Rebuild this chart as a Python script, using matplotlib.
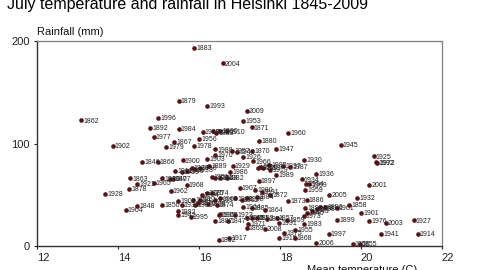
import matplotlib
matplotlib.use("Agg")
import matplotlib.pyplot as plt
import matplotlib.transforms as mtransforms

# values (July mean temperature C, rainfall mm)
years = ["1883", "2004", "1879", "1993", "1862", "1996", "1892", "1984", "2009", "1953",
         "1871", "1960", "1977", "1867", "1956", "1979", "1978", "1902", "1988", "1880",
         "1947", "1945", "1925", "1972", "1992", "1930", "1936", "2001", "1910", "1922",
         "1888", "1990", "1918", "1944", "1870", "1926", "1966", "1903", "1937", "1987",
         "1985", "1929", "1916", "1989", "1934", "1994", "1969", "1959", "1897", "2005",
         "1932", "1873", "1858", "1961", "1901", "1899", "1976", "2003", "1927", "1983",
         "1864", "1941", "1914", "1997", "1955", "2006", "1868", "1915", "1855", "1856",
         "2008", "1971", "1991", "1975", "1917", "1852", "1887", "1846", "1866", "1900",
         "1863", "1921", "1965", "1878", "1928", "1877", "1920", "1940", "1968", "1962",
         "1848", "1904", "1850", "1909", "1931", "1882", "1942", "1995", "1935", "1911",
         "1939", "1949", "1924", "1933", "1950", "1889", "1970", "1957", "1981", "1948",
         "1982", "1951", "1986", "1919", "1913", "1952", "1907", "1980", "1891", "1884",
         "1872", "1974", "1893", "1963", "1954", "1875", "1861", "1876", "1898", "1874",
         "1894", "1906", "1908", "1912", "1958", "1964", "1885", "1923", "1967", "1847",
         "1849", "1851", "1853", "1854", "1857", "1859", "1869", "1896", "1938", "1943",
         "1946", "1973", "1881", "1886", "1890"]
temperature = [15.88, 16.59, 15.50, 16.20, 13.09, 14.99, 14.79, 15.50, 17.18, 17.09,
               17.30, 18.20, 14.88, 15.38, 16.00, 15.19, 15.88, 13.87, 16.40, 17.49,
               17.90, 19.50, 20.31, 20.40, 20.38, 18.60, 18.89, 20.20, 16.70, 16.34,
               16.43, 16.52, 16.09, 16.95, 17.32, 17.09, 17.33, 16.20, 18.08, 18.25,
               17.74, 16.83, 17.51, 17.90, 18.53, 18.65, 18.72, 18.62, 17.47, 19.21,
               19.91, 18.20, 19.70, 19.40, 20.00, 19.41, 20.20, 20.61, 21.30, 18.60,
               17.63, 20.50, 21.40, 19.20, 18.38, 18.89, 18.36, 17.98, 19.97, 19.79,
               17.62, 17.21, 17.98, 18.10, 16.75, 16.49, 16.40, 14.59, 14.98, 15.60,
               14.30, 14.47, 14.88, 14.28, 13.69, 15.37, 15.09, 15.28, 15.70, 15.30,
               14.48, 14.19, 15.09, 15.49, 15.57, 15.49, 15.49, 15.79, 16.49, 15.41,
               15.57, 15.70, 15.82, 15.90, 16.02, 16.25, 16.40, 16.82, 16.40, 16.52,
               16.68, 16.31, 16.77, 17.75, 17.59, 17.45, 17.00, 17.38, 17.55, 17.42,
               17.75, 16.31, 16.40, 16.52, 16.07, 16.19, 16.02, 15.98, 16.23, 16.44,
               15.86, 15.90, 16.89, 17.05, 17.18, 17.09, 17.30, 16.89, 16.52, 16.72,
               17.18, 17.30, 17.42, 17.67, 17.92, 18.17, 17.18, 19.11, 18.91, 18.78,
               18.66, 18.58, 18.99, 18.66, 18.62]
rainfall = [193.2, 178.2, 141.5, 136.6, 122.6, 124.9, 115.6, 114.1, 131.7, 121.7,
            115.8, 110.7, 106.3, 101.7, 104.4, 96.6, 97.6, 97.6, 94.3, 102.4,
            94.9, 98.5, 87.5, 80.7, 81.5, 83.9, 70.5, 59.7, 111.9, 111.9,
            110.2, 112.2, 111.2, 92.0, 92.5, 86.8, 82.6, 84.9, 77.8, 77.1,
            79.0, 78.0, 76.8, 69.3, 64.9, 60.2, 60.0, 54.6, 63.4, 50.0,
            47.1, 43.6, 40.2, 37.3, 32.2, 25.1, 24.4, 22.9, 24.9, 21.8,
            35.1, 11.9, 11.9, 11.9, 15.3, 2.7, 7.6, 8.0, 1.8, 1.8,
            16.3, 21.7, 22.4, 12.7, 8.1, 5.9, 24.4, 81.7, 82.2, 83.6,
            66.0, 60.8, 61.2, 55.4, 51.0, 65.4, 66.0, 65.1, 59.5, 53.4,
            39.0, 35.4, 40.0, 43.6, 40.0, 33.7, 30.2, 28.0, 30.2, 73.2,
            72.5, 73.2, 75.8, 74.8, 76.4, 78.3, 88.8, 92.7, 66.6, 66.6,
            66.6, 67.6, 72.5, 74.1, 75.8, 75.8, 56.9, 54.6, 53.0, 48.1,
            49.8, 51.4, 44.9, 46.5, 49.8, 51.4, 44.9, 41.7, 40.7, 40.0,
            44.9, 40.0, 46.5, 44.9, 46.5, 38.3, 36.8, 30.2, 30.9, 24.4,
            27.6, 27.0, 27.0, 26.3, 27.0, 25.4, 17.3, 38.3, 35.8, 34.1,
            32.5, 29.3, 37.6, 44.9, 36.8]
x_ticks = [12, 14, 16, 18, 20, 22]
y_ticks = [0, 100, 200]

fig = plt.figure(figsize=(4.8, 2.7), dpi=100)
ax = fig.add_axes([0.077, 0.089, 0.844, 0.759])

ax.scatter(temperature, rainfall, s=11, color="#5a1212", zorder=3, linewidths=0)
for yr, t, r in zip(years, temperature, rainfall):
    ax.annotate(yr, (t, r), xytext=(1.5, -0.5), textcoords="offset points",
                fontsize=5, color="#222222", va="center", ha="left",
                family="Liberation Sans")

ax.set_xlim(12, 22)
ax.set_ylim(0, 200)
ax.set_xticks(x_ticks)
ax.set_yticks(y_ticks)
ax.tick_params(labelsize=8, length=2, width=0.8, colors="#222222", pad=3)
for lab in ax.get_xticklabels() + ax.get_yticklabels():
    lab.set_family("Liberation Sans")
# tick labels in the reference sit a few pixels right of the ticks
shift = mtransforms.ScaledTranslation(6 / 100, 0, fig.dpi_scale_trans)
for lab in ax.get_xticklabels():
    lab.set_transform(lab.get_transform() + shift)

for side in ["top", "right"]:
    ax.spines[side].set_color("#808080")
    ax.spines[side].set_linewidth(0.9)
for side in ["left", "bottom"]:
    ax.spines[side].set_color("#333333")
    ax.spines[side].set_linewidth(1.0)

fig.text(0.015, 0.967, "July temperature and rainfall in Helsinki 1845-2009",
         fontsize=11.5, family="Liberation Sans", color="black", va="baseline")
fig.text(0.077, 0.87, "Rainfall (mm)", fontsize=8, family="Liberation Sans",
         color="#111111", va="baseline")
fig.text(0.755, -0.01, "Mean temperature (C)", fontsize=8, family="Liberation Sans",
         color="#111111", ha="center", va="baseline")

fig.savefig("out.png", dpi=100)
